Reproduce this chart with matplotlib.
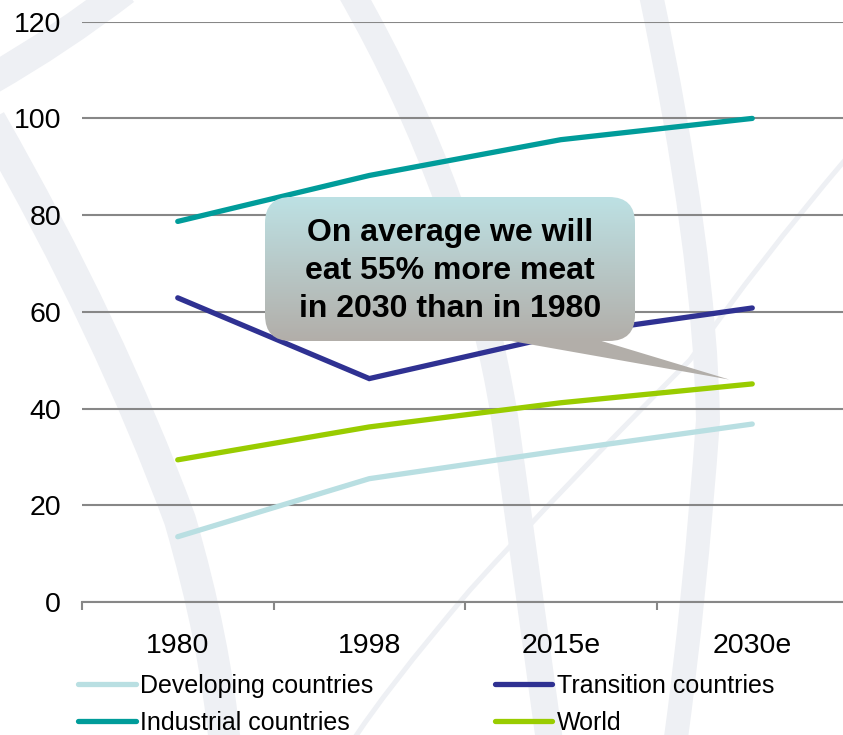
import numpy as np
import matplotlib
matplotlib.use("Agg")
import matplotlib.pyplot as plt
from matplotlib.path import Path
from matplotlib.patches import PathPatch, FancyBboxPatch, Polygon

plt.rcParams['font.family'] = ['Liberation Sans', 'DejaVu Sans']

# ---- data ----
categories = ["1980", "1998", "2015e", "2030e"]
developing = [13.5, 25.5, 31.3, 36.8]
transition = [62.9, 46.2, 55.2, 60.8]
industrial = [78.7, 88.2, 95.6, 100.0]
world = [29.4, 36.2, 41.2, 45.1]
y_ticks = [0, 20, 40, 60, 80, 100, 120]
callout_text = "On average we will\neat 55% more meat\nin 2030 than in 1980"

W, H = 843, 735
fig = plt.figure(figsize=(W / 100, H / 100), dpi=100)
fig.patch.set_facecolor('white')

def px(x, y):
    return (x / W, 1 - y / H)

# ---- faint watermark bands (background axes) ----
bg = fig.add_axes([0, 0, 1, 1], zorder=-1)
bg.set_axis_off()
bg.set_xlim(0, 1)
bg.set_ylim(0, 1)
wm_color = '#eef0f4'

def band(points, width_px):
    pts = [px(x, y) for x, y in points]
    verts = [pts[0]]
    codes = [Path.MOVETO]
    for i in range(1, len(pts) - 1, 2):
        verts += [pts[i], pts[i + 1]]
        codes += [Path.CURVE3, Path.CURVE3]
    bg.add_patch(PathPatch(Path(verts, codes), fill=False, edgecolor=wm_color,
                           lw=width_px * 0.72, capstyle='butt'))

band([(125, -10), (60, 40), (-10, 80)], 30)
band([(-10, 120), (110, 330), (180, 520), (215, 640), (225, 745)], 32)
band([(350, -10), (470, 200), (505, 420), (530, 600), (550, 745)], 27)
band([(650, -10), (705, 250), (708, 420), (695, 600), (675, 745)], 24)
band([(845, 160), (760, 260), (690, 360), (560, 490), (470, 590), (385, 690), (350, 745)], 5)

# ---- axes ----
ax = fig.add_axes([82 / W, (H - 602) / H, 766 / W, (602 - 21.7) / H])
ax.set_facecolor('none')
x = np.arange(len(categories))
ax.set_xlim(-0.5, len(categories) - 0.5)
ax.set_ylim(0, 120)

series = [
    ("Developing countries", developing, '#b9dfe2'),
    ("Industrial countries", industrial, '#009c9a'),
    ("Transition countries", transition, '#2f3192'),
    ("World", world, '#99cc00'),
]
handles = []
for name, vals, col in series:
    ln, = ax.plot(x, vals, color=col, lw=3.8, solid_capstyle='round',
                  solid_joinstyle='miter', label=name, zorder=3)
    handles.append(ln)

ax.set_yticks(y_ticks)
ax.set_yticklabels([str(v) for v in y_ticks], fontsize=20.5)
ax.yaxis.grid(True, color='#878787', lw=1.5)
ax.set_axisbelow(True)
ax.tick_params(axis='y', length=0, pad=15)
ax.set_xticks(x)
ax.set_xticklabels(categories, fontsize=20.5)
ax.set_xticks(np.arange(-0.5, len(categories), 1.0), minor=True)
ax.tick_params(axis='x', which='major', length=0, pad=22)
ax.tick_params(axis='x', which='minor', length=6, width=1.5, color='#878787', direction='out')
for s in ['top', 'right', 'left']:
    ax.spines[s].set_visible(False)
ax.spines['bottom'].set_color('#878787')
ax.spines['bottom'].set_linewidth(1.5)
ax.spines['bottom'].set_zorder(2)

# ---- legend ----
leg = fig.legend(handles=handles, loc='upper left', bbox_to_anchor=px(78, 674),
                 ncol=2, frameon=False, fontsize=18, handlelength=2.3,
                 handletextpad=0.2, columnspacing=4.84, labelspacing=0.51,
                 borderaxespad=0, borderpad=0)

# ---- callout ----
bx0, by0, bx1, by1 = 265, 197, 635, 341
tip_data = (2.88, 46.0)
tip_fig = fig.transFigure.inverted().transform(ax.transData.transform(tip_data))

gax = fig.add_axes([0, 0, 1, 1], zorder=6)
gax.set_axis_off()
gax.set_xlim(0, 1)
gax.set_ylim(0, 1)
gax.patch.set_alpha(0)

tail = Polygon([px(483, 336), px(585, 336), tuple(tip_fig)], closed=True,
               facecolor='#b2aea9', edgecolor='none', zorder=5)
gax.add_patch(tail)

x0, y0 = px(bx0, by1)
x1, y1 = px(bx1, by0)
rx = 26 / W
ry = 26 / H
grad_top = np.array([0xbd, 0xe1, 0xe4]) / 255
grad_bot = np.array([0xb2, 0xae, 0xa9]) / 255
t = np.linspace(0, 1, 256)[:, None]
img = (grad_top[None, :] * (1 - t) + grad_bot[None, :] * t)[:, None, :]
im = gax.imshow(img, extent=[x0, x1, y0, y1], aspect='auto', zorder=6,
                interpolation='bilinear')
clip = FancyBboxPatch((x0 + rx, y0 + ry), (x1 - x0) - 2 * rx, (y1 - y0) - 2 * ry,
                      boxstyle="round,pad=%f,rounding_size=%f" % (rx, rx),
                      mutation_aspect=ry / rx,
                      facecolor='none', edgecolor='none')
gax.add_patch(clip)
im.set_clip_path(clip)
gax.text((x0 + x1) / 2, px(0, 271)[1], callout_text, ha='center', va='center',
         fontsize=23, fontweight='bold', color='black', linespacing=1.33, zorder=7)

fig.savefig('out.png', dpi=100)
